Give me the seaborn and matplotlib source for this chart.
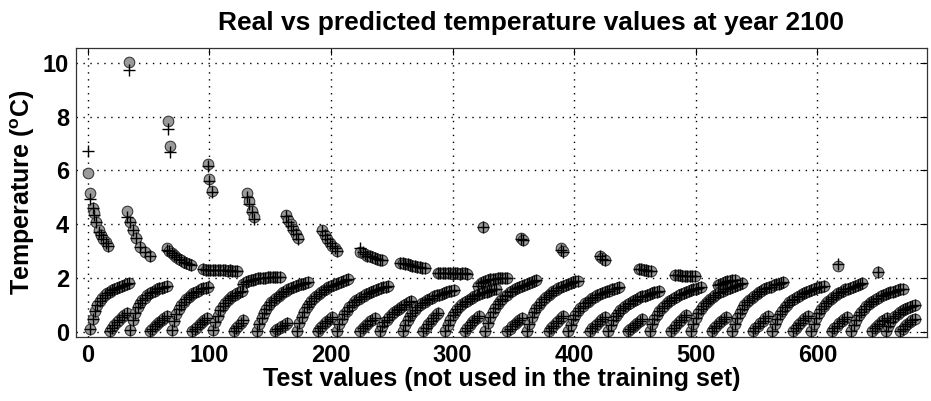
import matplotlib
matplotlib.use("Agg")
import matplotlib.pyplot as plt
import numpy as np
import pandas as pd
import seaborn as sns

# ---------------- data ----------------
# isolated high-temperature clusters: test index, real value, predicted value
high_x = [0, 2, 4, 5, 7, 9, 11, 13, 15, 17,
          34, 32, 35, 37, 40, 43, 47, 51,
          66, 68, 65, 67, 69, 71, 73, 75, 77, 79, 81, 83, 85,
          99, 100, 102, 95, 97, 99, 101, 103, 105, 107, 109, 111, 113, 115, 117, 119, 121, 123,
          131, 133, 135, 137,
          128, 130, 132, 134, 136, 138, 140, 142, 144, 146, 148, 150, 152, 154, 156, 158,
          163, 165, 167, 169, 171, 173,
          193, 195, 197, 199, 201, 203, 205,
          224, 226, 228, 230, 232, 234, 236, 238, 240, 242,
          257, 259, 261, 263, 265, 267, 269, 271, 273, 275, 277,
          288, 290, 292, 294, 296, 298, 300, 302, 304, 306, 308, 310, 312,
          325,
          321, 323, 325, 327, 329, 331, 333, 335, 337, 339, 341, 343, 345,
          356, 358, 389, 391, 421, 423, 425,
          453, 455, 457, 459, 461, 463,
          483, 485, 487, 489, 491, 493, 495, 497, 499,
          518, 520, 522, 524, 526, 528, 530, 532,
          617, 650]
high_real = [5.9, 5.15, 4.6, 4.4, 4.1, 3.8, 3.6, 3.45, 3.35, 3.2,
             10.05, 4.5, 4.1, 3.8, 3.5, 3.15, 2.95, 2.82,
             7.83, 6.9, 3.1, 3.0, 2.92, 2.85, 2.78, 2.72, 2.66, 2.6, 2.55, 2.5, 2.47,
             6.23, 5.7, 5.25, 2.32, 2.3, 2.3, 2.29, 2.3, 2.28, 2.28, 2.3, 2.29, 2.28, 2.27, 2.28, 2.27, 2.26, 2.27,
             5.15, 4.85, 4.5, 4.25,
             1.78, 1.84, 1.88, 1.91, 1.94, 1.96, 1.98, 2.0, 2.0, 2.01, 2.02, 2.03, 2.03, 2.04, 2.05, 2.05,
             4.33, 4.15, 4.0, 3.82, 3.65, 3.5,
             3.77, 3.6, 3.45, 3.3, 3.2, 3.1, 3.02,
             2.95, 2.93, 2.88, 2.83, 2.8, 2.76, 2.73, 2.7, 2.68, 2.65,
             2.57, 2.55, 2.52, 2.5, 2.48, 2.46, 2.44, 2.42, 2.4, 2.38, 2.36,
             2.18, 2.18, 2.17, 2.17, 2.17, 2.17, 2.16, 2.17, 2.17, 2.16, 2.17, 2.17, 2.16,
             3.88,
             1.7, 1.8, 1.86, 1.9, 1.93, 1.95, 1.96, 1.97, 1.98, 1.98, 1.99, 1.99, 1.99,
             3.5, 3.4, 3.1, 3.0, 2.8, 2.75, 2.68,
             2.35, 2.32, 2.3, 2.28, 2.27, 2.26,
             2.1, 2.1, 2.09, 2.08, 2.08, 2.08, 2.08, 2.07, 2.07,
             1.72, 1.78, 1.82, 1.85, 1.88, 1.9, 1.92, 1.93,
             2.45, 2.22]
high_pred = [6.72, 4.95, 4.6, 4.35, 4.1, 3.7, 3.6, 3.45, 3.3, 3.2,
             9.75, 4.28, 4.1, 3.8, 3.5, 3.15, 2.95, 2.82,
             7.55, 6.68, 3.05, 3.0, 2.92, 2.85, 2.78, 2.72, 2.66, 2.6, 2.55, 2.5, 2.47,
             6.15, 5.6, 5.2, 2.32, 2.3, 2.3, 2.29, 2.3, 2.28, 2.28, 2.3, 2.29, 2.28, 2.27, 2.28, 2.27, 2.26, 2.27,
             5.0, 4.75, 4.45, 4.2,
             1.78, 1.84, 1.88, 1.91, 1.94, 1.96, 1.98, 2.0, 2.0, 2.01, 2.02, 2.03, 2.03, 2.04, 2.05, 2.05,
             4.3, 4.1, 3.95, 3.8, 3.62, 3.45,
             3.75, 3.58, 3.45, 3.3, 3.2, 3.1, 3.0,
             3.1, 2.95, 2.88, 2.83, 2.8, 2.76, 2.73, 2.7, 2.68, 2.65,
             2.57, 2.55, 2.52, 2.5, 2.48, 2.46, 2.44, 2.42, 2.4, 2.38, 2.36,
             2.18, 2.18, 2.17, 2.17, 2.17, 2.17, 2.16, 2.17, 2.17, 2.16, 2.17, 2.17, 2.16,
             3.9,
             1.7, 1.8, 1.86, 1.9, 1.93, 1.95, 1.96, 1.97, 1.98, 1.98, 1.99, 1.99, 1.99,
             3.45, 3.4, 3.05, 2.98, 2.8, 2.72, 2.68,
             2.35, 2.32, 2.3, 2.28, 2.27, 2.26,
             2.1, 2.1, 2.09, 2.08, 2.08, 2.08, 2.08, 2.07, 2.07,
             1.72, 1.78, 1.82, 1.85, 1.88, 1.9, 1.92, 1.93,
             2.5, 2.22]

# low rising arcs: first test index of each arc and its values (every 2nd index)
arc_starts = [2, 18, 35, 51, 69, 86, 103, 120,
              139, 154, 172, 189, 205, 224, 240, 259, 276, 294, 310, 327, 345,
              361, 379, 395, 413, 428, 444, 462, 480, 496, 513, 530, 547,
              563, 580, 595, 612, 628, 645, 656, 668]
arc_values = [
    [0.1, 0.48, 0.78, 1.0, 1.15, 1.27, 1.36, 1.43, 1.49, 1.54, 1.58, 1.62, 1.66, 1.7, 1.73, 1.77, 1.8],
    [0.02, 0.13, 0.24, 0.34, 0.44, 0.53, 0.61, 0.68],
    [0.05, 0.42, 0.7, 0.9, 1.05, 1.17, 1.27, 1.35, 1.42, 1.48, 1.53, 1.57, 1.61, 1.64, 1.67, 1.7],
    [0.02, 0.11, 0.2, 0.29, 0.37, 0.45, 0.52, 0.58],
    [0.05, 0.38, 0.64, 0.84, 1.0, 1.12, 1.22, 1.3, 1.37, 1.43, 1.48, 1.53, 1.57, 1.61, 1.64, 1.67],
    [0.02, 0.1, 0.19, 0.28, 0.36, 0.44, 0.52],
    [0.05, 0.35, 0.6, 0.79, 0.94, 1.06, 1.16, 1.24, 1.31, 1.37, 1.42, 1.46, 1.5],
    [0.02, 0.12, 0.22, 0.32, 0.42],
    [0.04, 0.3, 0.52, 0.7, 0.85, 0.98, 1.09, 1.18, 1.26, 1.33, 1.4, 1.46, 1.52, 1.57, 1.61, 1.65, 1.69, 1.72, 1.76, 1.79, 1.82, 1.85],
    [0.02, 0.08, 0.14, 0.2, 0.26, 0.31],
    [0.04, 0.31, 0.55, 0.74, 0.9, 1.03, 1.15, 1.25, 1.33, 1.4, 1.48, 1.54, 1.6, 1.66, 1.7, 1.74, 1.78, 1.81, 1.85, 1.89, 1.92, 1.95],
    [0.02, 0.12, 0.22, 0.31, 0.4, 0.48, 0.56],
    [0.04, 0.27, 0.48, 0.65, 0.78, 0.9, 1.0, 1.09, 1.16, 1.22, 1.29, 1.34, 1.39, 1.44, 1.48, 1.51, 1.55, 1.58, 1.62, 1.65, 1.67, 1.7],
    [0.02, 0.12, 0.21, 0.3, 0.38, 0.45, 0.52],
    [0.03, 0.2, 0.34, 0.45, 0.55, 0.64, 0.72, 0.79, 0.86, 0.92, 0.98, 1.04, 1.1, 1.15],
    [0.04, 0.25, 0.43, 0.59, 0.71, 0.82, 0.91, 0.99, 1.05, 1.12, 1.18, 1.22, 1.27, 1.32, 1.35, 1.38, 1.41, 1.44, 1.47, 1.5, 1.52, 1.55],
    [0.02, 0.15, 0.28, 0.4, 0.51, 0.61, 0.7],
    [0.04, 0.26, 0.45, 0.61, 0.74, 0.85, 0.94, 1.02, 1.09, 1.15, 1.22, 1.26, 1.31, 1.36, 1.39, 1.42, 1.46, 1.49, 1.52, 1.55, 1.57, 1.6],
    [0.02, 0.13, 0.24, 0.34, 0.43, 0.52, 0.6],
    [0.04, 0.31, 0.54, 0.73, 0.88, 1.02, 1.13, 1.23, 1.31, 1.38, 1.46, 1.52, 1.57, 1.63, 1.67, 1.71, 1.75, 1.79, 1.82, 1.86, 1.89, 1.92],
    [0.02, 0.11, 0.2, 0.29, 0.37, 0.45, 0.52],
    [0.04, 0.3, 0.53, 0.72, 0.87, 1.0, 1.12, 1.22, 1.29, 1.37, 1.44, 1.5, 1.56, 1.62, 1.65, 1.69, 1.73, 1.77, 1.8, 1.84, 1.87, 1.9],
    [0.02, 0.12, 0.22, 0.32, 0.41, 0.5, 0.58],
    [0.04, 0.26, 0.46, 0.63, 0.76, 0.87, 0.97, 1.06, 1.12, 1.19, 1.25, 1.3, 1.35, 1.4, 1.44, 1.47, 1.5, 1.53, 1.57, 1.6, 1.62, 1.65],
    [0.02, 0.12, 0.21, 0.3, 0.38, 0.46, 0.53],
    [0.04, 0.24, 0.42, 0.57, 0.69, 0.8, 0.89, 0.96, 1.02, 1.08, 1.14, 1.19, 1.23, 1.28, 1.31, 1.34, 1.37, 1.4, 1.43, 1.46, 1.48, 1.5],
    [0.02, 0.1, 0.18, 0.26, 0.33, 0.4, 0.46],
    [0.03, 0.27, 0.47, 0.62, 0.75, 0.88, 0.97, 1.05, 1.13, 1.19, 1.26, 1.3, 1.36, 1.4, 1.43, 1.47, 1.51, 1.54, 1.57, 1.59, 1.62, 1.65],
    [0.02, 0.13, 0.24, 0.34, 0.44, 0.53, 0.62],
    [0.04, 0.29, 0.5, 0.68, 0.83, 0.95, 1.06, 1.15, 1.22, 1.3, 1.37, 1.42, 1.48, 1.53, 1.57, 1.6, 1.64, 1.67, 1.71, 1.75, 1.77, 1.8],
    [0.02, 0.12, 0.22, 0.31, 0.4, 0.48, 0.55],
    [0.03, 0.3, 0.51, 0.7, 0.85, 0.98, 1.09, 1.18, 1.26, 1.33, 1.41, 1.46, 1.52, 1.57, 1.61, 1.65, 1.68, 1.72, 1.76, 1.79, 1.82, 1.85],
    [0.02, 0.12, 0.22, 0.32, 0.41, 0.5, 0.58],
    [0.04, 0.27, 0.48, 0.65, 0.78, 0.9, 1.0, 1.09, 1.16, 1.22, 1.29, 1.34, 1.39, 1.44, 1.48, 1.51, 1.55, 1.58, 1.62, 1.65, 1.67, 1.7],
    [0.02, 0.13, 0.23, 0.33, 0.42, 0.51, 0.6],
    [0.04, 0.29, 0.5, 0.68, 0.83, 0.95, 1.06, 1.15, 1.22, 1.3, 1.37, 1.42, 1.48, 1.53, 1.57, 1.6, 1.64, 1.67, 1.71, 1.75, 1.77, 1.8],
    [0.02, 0.12, 0.22, 0.31, 0.4, 0.48, 0.56],
    [0.04, 0.26, 0.45, 0.61, 0.74, 0.85, 0.94, 1.02, 1.09, 1.15, 1.22, 1.26, 1.31, 1.36, 1.39, 1.42, 1.46, 1.49, 1.52, 1.55, 1.57, 1.6],
    [0.02, 0.12, 0.21, 0.3, 0.38, 0.45, 0.52],
    [0.04, 0.22, 0.37, 0.49, 0.59, 0.67, 0.74, 0.8, 0.85, 0.89, 0.93, 0.97, 1.0],
    [0.02, 0.11, 0.2, 0.28, 0.35, 0.42, 0.48],
]

# ---------------- assemble table ----------------
arc_x, arc_y = [], []
for start, vals in zip(arc_starts, arc_values):
    for k, v in enumerate(vals):
        arc_x.append(start + 2 * k)
        arc_y.append(v)

df = pd.DataFrame({
    "test": list(high_x) + arc_x,
    "real": list(high_real) + arc_y,
    "pred": list(high_pred) + arc_y,   # predictions sit on the real values in the low arcs
})

# ---------------- style ----------------
sns.set_theme(style="white")
plt.rcParams["font.family"] = ["Liberation Sans", "DejaVu Sans"]
plt.rcParams["font.weight"] = "bold"
plt.rcParams["text.color"] = "black"
plt.rcParams["axes.labelcolor"] = "black"
plt.rcParams["xtick.color"] = "black"
plt.rcParams["ytick.color"] = "black"
plt.rcParams["mathtext.fontset"] = "custom"
plt.rcParams["mathtext.rm"] = "Liberation Sans:bold"
plt.rcParams["mathtext.bf"] = "Liberation Sans:bold"
plt.rcParams["mathtext.default"] = "rm"

fig = plt.figure(figsize=(9.31, 4.01), dpi=100)
ax = fig.add_axes([0.0816, 0.1596, 0.914, 0.7207])

sns.scatterplot(data=df, x="test", y="real", marker="o", s=58,
                color="#9a9a9a", edgecolor="#333333", linewidth=0.75,
                ax=ax, zorder=3, legend=False)
sns.scatterplot(data=df, x="test", y="pred", marker="+", s=70,
                color="black", linewidth=1.0, ax=ax, zorder=4, legend=False)

ax.set_xlim(-9.6, 690)
ax.set_ylim(-0.2, 10.56)
ax.set_xticks([0, 100, 200, 300, 400, 500, 600])
ax.set_yticks([0, 2, 4, 6, 8, 10])
ax.grid(True, linestyle=(0, (1, 4)), color="black", linewidth=1.0)
ax.set_axisbelow(True)
ax.tick_params(direction="in", top=True, right=True, length=5, width=0.8,
               labelsize=17, pad=5, colors="black")
for lab in ax.get_xticklabels() + ax.get_yticklabels():
    lab.set_fontweight("bold")
for sp in ax.spines.values():
    sp.set_color("#333333")
    sp.set_linewidth(0.9)

ax.set_xlabel("Test values (not used in the training set)", fontsize=18,
              fontweight="bold", labelpad=0)
ax.set_ylabel("Temperature ($^{\\mathrm{o}}$C)", fontsize=18,
              fontweight="bold", labelpad=4)
ax.set_title("Real vs predicted temperature values at year 2100", fontsize=19,
             fontweight="bold", pad=13, x=0.535)

fig.savefig("out.png", dpi=100)
